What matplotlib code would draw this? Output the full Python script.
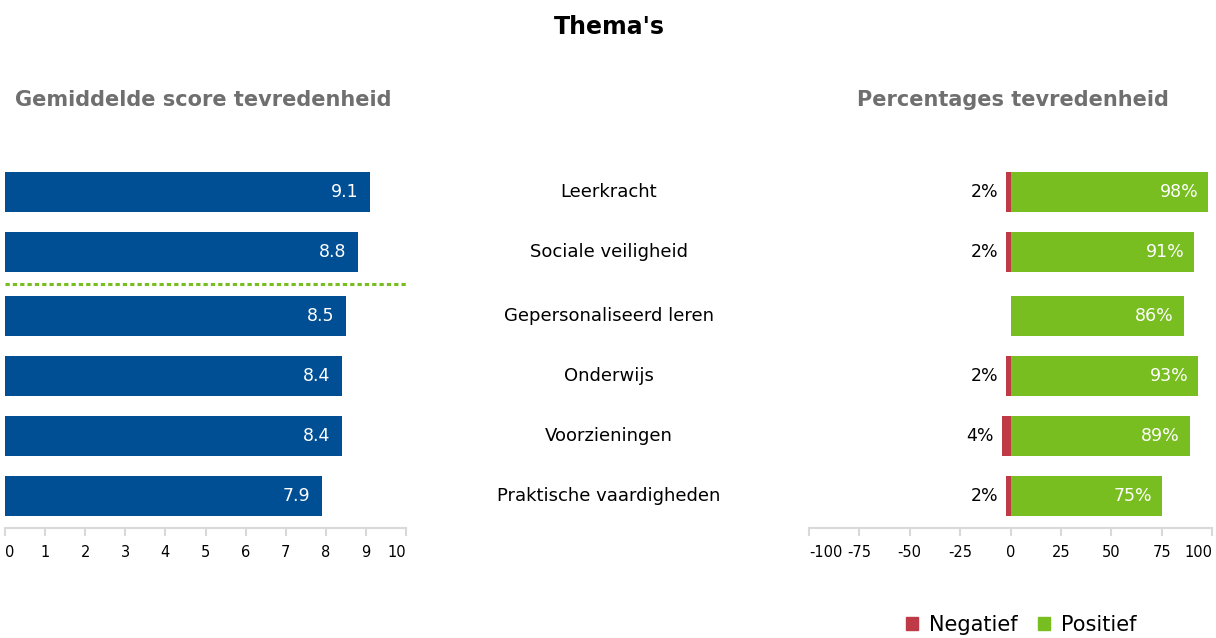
import numpy as np
import matplotlib
matplotlib.use('Agg')
import matplotlib.pyplot as plt
from matplotlib.patches import Patch
from matplotlib.transforms import blended_transform_factory

# Data
themas = ['Leerkracht', 'Sociale veiligheid', 'Gepersonaliseerd leren',
          'Onderwijs', 'Voorzieningen', 'Praktische vaardigheden']
scores = [9.1, 8.8, 8.5, 8.4, 8.4, 7.9]
negatief = [2, 2, 0, 2, 4, 2]
positief = [98, 91, 86, 93, 89, 75]
referentie_na = 1  # streepjeslijn onder deze rij

blauw = '#004f95'
groen = '#78be20'
rood = '#be3a46'
grijs_as = '#d9d9d9'

plt.rcParams['font.family'] = 'DejaVu Sans'
plt.rcParams['axes.unicode_minus'] = False

W, H = 1216, 638
fig = plt.figure(figsize=(W / 100, H / 100), dpi=100)

# rij posities, met een klein extra gat onder de referentielijn
idx = np.arange(len(themas))
ypos = idx + (idx > referentie_na) * 0.067
ylim = (5.6, -0.667)

ax1 = fig.add_axes([5 / W, (H - 528) / H, (406 - 5) / W, 376 / H])
ax2 = fig.add_axes([809 / W, (H - 528) / H, (1212 - 809) / W, 376 / H])

# Linker grafiek: gemiddelde score
ax1.barh(ypos, scores, height=0.667, color=blauw)
for y, s in zip(ypos, scores):
    ax1.annotate(f'{s:.1f}', (s, y), xytext=(-8, 0), textcoords='offset points',
                 ha='right', va='center', color='white', fontsize=12.5)
ax1.axhline((ypos[referentie_na] + ypos[referentie_na + 1]) / 2, color=groen,
            lw=2.2, linestyle=(0, (1.4, 1.0)), xmin=0, xmax=1.003, clip_on=False)
ax1.set_xlim(0, 10)
ax1.set_xticks(range(0, 11))

# Rechter grafiek: percentages
ax2.barh(ypos, [-n for n in negatief], height=0.667, color=rood)
ax2.barh(ypos, positief, height=0.667, color=groen)
for y, n, p in zip(ypos, negatief, positief):
    ax2.annotate(f'{p}%', (p, y), xytext=(-7, 0), textcoords='offset points',
                 ha='right', va='center', color='white', fontsize=12.5)
    if n > 0:
        ax2.annotate(f'{n}%', (-n, y), xytext=(-6, 0), textcoords='offset points',
                     ha='right', va='center', color='black', fontsize=12.5)
ax2.set_xlim(-100, 100)
ax2.set_xticks(range(-100, 101, 25))

for ax in (ax1, ax2):
    ax.set_ylim(*ylim)
    ax.set_yticks([])
    for side in ('top', 'right', 'left'):
        ax.spines[side].set_visible(False)
    ax.spines['bottom'].set_color(grijs_as)
    ax.spines['bottom'].set_linewidth(1.5)
    ax.tick_params(axis='x', colors=grijs_as, width=1.5, length=6,
                   labelcolor='black', labelsize=10.5, pad=6)
    labels = ax.get_xticklabels()
    labels[0].set_horizontalalignment('left')
    labels[-1].set_horizontalalignment('right')

# Thema labels in het midden
trans = blended_transform_factory(fig.transFigure, ax1.transData)
for y, t in zip(ypos, themas):
    ax1.text(609 / W, y, t, transform=trans, ha='center', va='center',
             fontsize=13, color='black')

# Titels
fig.text(609 / W, 1 - 27 / H, "Thema's", ha='center', va='center',
         fontsize=17, fontweight='bold')
fig.text(203 / W, 1 - 100 / H, 'Gemiddelde score tevredenheid', ha='center',
         va='center', fontsize=15, fontweight='bold', color='#6f6f6f')
fig.text(1013 / W, 1 - 100 / H, 'Percentages tevredenheid', ha='center',
         va='center', fontsize=15, fontweight='bold', color='#6f6f6f')

# Legenda
handles = [Patch(color=rood, label='Negatief'), Patch(color=groen, label='Positief')]
fig.legend(handles=handles, loc='center', bbox_to_anchor=(1021 / W, 1 - 625 / H),
           ncol=2, frameon=False, fontsize=15, handlelength=0.6, handleheight=0.6,
           handletextpad=0.5, columnspacing=1.0, borderaxespad=0)

fig.savefig('out.png', dpi=100)
